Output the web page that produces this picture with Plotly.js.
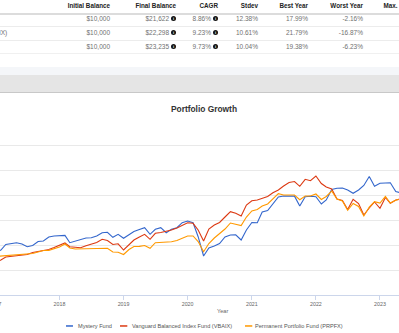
<!DOCTYPE html>
<html>
<head>
<meta charset="utf-8">
<script src="https://cdn.plot.ly/plotly-3.0.1.min.js"></script>
<style>
html,body{margin:0;padding:0;width:399px;height:333px;overflow:hidden;background:#fff;font-family:"Liberation Sans",Arial,sans-serif;}
#page{position:relative;width:399px;height:333px;overflow:hidden;}
.cell{position:absolute;white-space:nowrap;font-size:6.5px;line-height:8px;height:8px;color:#707070;}
.r{text-align:right;width:200px;}
.hdr{font-weight:bold;color:#222;font-size:6.3px;}
.info{display:inline-block;width:5px;height:5px;border-radius:50%;background:#111;color:#fff;font-size:4px;font-weight:bold;line-height:5px;text-align:center;vertical-align:middle;margin-left:2px;position:relative;top:-0.5px;}
.hl{position:absolute;left:0;width:399px;}
#chart{position:absolute;left:-40px;top:93px;width:524px;height:240px;}
</style>
</head>
<body>
<div id="page">
  <div id="tbl"></div>
  <div class="hl" style="top:67px;height:8px;background:#f4f6f9;"></div>
  <div class="hl" style="top:75px;height:17px;background:#e5e5e5;border-bottom:1px solid #c8c8c8;"></div>
  <div id="chart"></div>
</div>
<script>
// ---------- table data ----------
var fundNames = ['Mystery Fund', 'Vanguard Balanced Index Fund (VBAIX)', 'Permanent Portfolio Fund (PRPFX)'];
var tableHeaders = ['Initial Balance', 'Final Balance', 'CAGR', 'Stdev', 'Best Year', 'Worst Year', 'Max. Drawdown'];
var initialBalance = ['$10,000', '$10,000', '$10,000'];
var finalBalance = ['$21,622', '$22,298', '$23,235'];
var cagr = ['8.86%', '9.23%', '9.73%'];
var stdev = ['12.38%', '10.61%', '10.04%'];
var bestYear = ['17.99%', '21.79%', '19.38%'];
var worstYear = ['-2.16%', '-16.87%', '-6.23%'];

// ---------- chart data (monthly, Jan 2017 onward) ----------
var startYear = 2017, startMonth = 1;
var mysteryFund = [14325,14526,15079,15179,15260,15129,14858,14978,15380,15431,15833,15934,15950,15990,15260,15431,15531,15732,15763,15934,16266,16306,15803,16105,15702,16034,16386,16587,16768,16105,16607,16768,16266,16607,16768,17271,17442,17271,15863,13922,14727,14928,15179,15833,16034,16050,15531,16537,17291,17270,18347,18498,19202,19856,19956,19960,19940,18951,19886,19936,19886,19152,19554,20610,20731,20761,20560,20228,20560,21012,21918,20932,21234,21264,21294,20409,20258];
var vbaix = [13319,13520,13822,13872,13922,13993,14073,14274,14375,14475,14576,14777,15029,15230,14858,14777,14757,14958,15129,15280,15602,15481,15079,15150,14526,15029,15531,15833,16105,15602,16205,16286,16386,16537,16738,16990,17271,17211,16537,15431,16638,17040,17291,17844,18377,18217,17945,19051,19484,19554,19705,19906,20288,20560,20962,21314,21415,20932,21636,21495,21968,21214,20862,20660,19655,19504,18599,19625,19202,18046,18750,19353,18719,19806,19222,19554,19655];
var prpfx = [13872,13922,13973,13993,14023,14053,14123,14174,14325,14475,14490,14626,14827,15129,14727,14626,14640,14677,14727,14747,14730,14707,14325,14294,14073,14576,14878,14890,14978,14697,15260,15300,15330,15360,15481,15682,15934,15940,15380,14355,15179,15732,16185,16638,17241,17140,16990,17844,18448,18599,18951,19152,19655,20188,20057,20057,20050,19584,19956,19960,20158,19604,19906,20459,19655,19454,18518,19202,18900,17945,18850,19383,19252,19926,19252,19520,19700];
var seriesNames = ['Mystery Fund', 'Vanguard Balanced Index Fund (VBAIX)', 'Permanent Portfolio Fund (PRPFX)'];
var seriesColors = ['#3366cc', '#dc3912', '#ff9900'];

function monthDates(y, m, n) {
  var out = [];
  for (var i = 0; i < n; i++) {
    var yy = y + Math.floor((m - 1 + i) / 12);
    var mm = ((m - 1 + i) % 12) + 1;
    out.push(yy + '-' + (mm < 10 ? '0' : '') + mm + '-01');
  }
  return out;
}
var dates = monthDates(startYear, startMonth, mysteryFund.length);

// ---------- build table ----------
(function () {
  var tbl = document.getElementById('tbl');
  var colRight = [110, 176, 218, 258, 308, 363, 431];
  var rowTop = [2, 14.5, 28.5, 42.5];
  var cols = [initialBalance, finalBalance, cagr, stdev, bestYear, worstYear];
  var withInfo = [false, true, true, false, false, false];
  function add(html, cls, top, right) {
    var d = document.createElement('div');
    d.className = 'cell r ' + cls;
    d.style.top = top + 'px';
    d.style.left = (right - 200) + 'px';
    d.innerHTML = html;
    tbl.appendChild(d);
  }
  tableHeaders.forEach(function (h, j) { add(h, 'hdr', rowTop[0], colRight[j]); });
  for (var i = 0; i < 3; i++) {
    var nm = document.createElement('div');
    nm.className = 'cell';
    nm.style.top = rowTop[i + 1] + 'px';
    nm.style.left = '-109px';
    nm.textContent = fundNames[i];
    tbl.appendChild(nm);
    cols.forEach(function (c, j) {
      add(c[i] + (withInfo[j] ? '<span class="info">i</span>' : ''), '', rowTop[i + 1], colRight[j]);
    });
  }
  var lines = [[12.5, 2, '#dcdcdc'], [25.5, 1, '#ececec'], [39.5, 1, '#ececec'], [53, 1, '#f0f0f0']];
  lines.forEach(function (l) {
    var d = document.createElement('div');
    d.className = 'hl';
    d.style.top = l[0] + 'px';
    d.style.height = l[1] + 'px';
    d.style.background = l[2];
    tbl.appendChild(d);
  });
})();

// ---------- chart ----------
var values = [mysteryFund, vbaix, prpfx];
var traces = values.map(function (v, k) {
  return {
    type: 'scatter', mode: 'lines', x: dates, y: v, name: seriesNames[k],
    line: {color: seriesColors[k], width: 1.1}, showlegend: false, hoverinfo: 'skip'
  };
});

var legendY = -0.178;
var legendTextX = [0.2214, 0.3244, 0.5592];
var legendSymX = [[0.2023, 0.2156], [0.3053, 0.3193], [0.5439, 0.5578]];
var annotations = seriesNames.map(function (n, k) {
  return {xref: 'paper', yref: 'paper', x: legendTextX[k], y: legendY, xanchor: 'left', yanchor: 'middle',
    text: n, showarrow: false, font: {family: 'Liberation Sans, Arial, sans-serif', size: 5.6, color: '#555'}};
});
annotations.push({xref: 'paper', yref: 'paper', x: 0.5, y: -0.09, xanchor: 'center', yanchor: 'middle',
  text: 'Year', showarrow: false, font: {family: 'Liberation Sans, Arial, sans-serif', size: 5.6, color: '#666'}});
var shapes = seriesColors.map(function (c, k) {
  return {type: 'line', xref: 'paper', yref: 'paper', x0: legendSymX[k][0], x1: legendSymX[k][1],
    y0: legendY, y1: legendY, line: {color: c, width: 1.5}};
});

var layout = {
  width: 524, height: 240,
  margin: {l: 0, r: 0, t: 28, b: 38, pad: 0},
  paper_bgcolor: 'rgba(0,0,0,0)', plot_bgcolor: 'rgba(0,0,0,0)',
  font: {family: 'Liberation Sans, Arial, sans-serif', color: '#666'},
  title: {text: '<b>Portfolio Growth</b>', font: {size: 8.4, color: '#333'},
    x: 0.4656, xanchor: 'center', y: 0.9333, yanchor: 'middle'},
  xaxis: {
    type: 'date', range: ['2016-06-13', '2024-08-15 19:00'],
    tick0: '2017-01-01', dtick: 'M12', tickformat: '%Y',
    showgrid: false, zeroline: false,
    showline: true, linecolor: '#ccd6eb', linewidth: 1,
    ticks: 'outside', ticklen: 4, tickcolor: '#ccd6eb', tickwidth: 1,
    tickfont: {size: 5.3, color: '#666'}
  },
  yaxis: {
    range: [10000, 27500], tick0: 10000, dtick: 2500,
    showticklabels: false, gridcolor: '#e9e9e9', gridwidth: 1, zeroline: false, showline: false
  },
  annotations: annotations,
  shapes: shapes,
  showlegend: false
};

Plotly.newPlot('chart', traces, layout, {staticPlot: true, displayModeBar: false});
</script>
</body>
</html>
